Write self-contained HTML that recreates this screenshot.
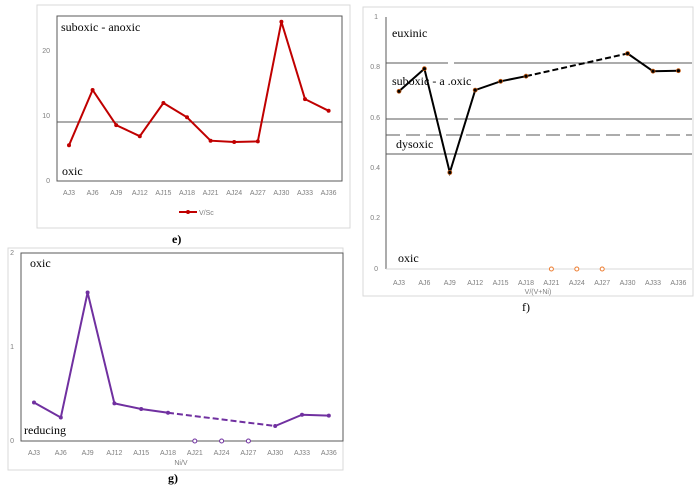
<!DOCTYPE html>
<html><head><meta charset="utf-8"><style>
html,body{margin:0;padding:0;background:#fff;width:695px;height:487px;overflow:hidden}
svg{display:block}
.t{font-family:"Liberation Sans",sans-serif;font-size:7px;fill:#7f7f7f}
.s{font-family:"Liberation Serif",serif;font-size:12px;fill:#000}
</style></head><body>
<svg width="695" height="487" viewBox="0 0 695 487" xmlns="http://www.w3.org/2000/svg">
<!-- Chart e -->
<rect x="37" y="5" width="313" height="223" fill="#fff" stroke="#d9d9d9"/>
<rect x="57" y="16" width="285" height="165" fill="none" stroke="#595959" stroke-width="1"/>
<line x1="57" y1="122" x2="342" y2="122" stroke="#595959"/>
<g class="t" text-anchor="end"><text x="50" y="183">0</text><text x="50" y="118">10</text><text x="50" y="53">20</text></g>
<text class="s" x="61" y="31">suboxic - anoxic</text>
<text class="s" x="62" y="175">oxic</text>
<polyline fill="none" stroke="#c00000" stroke-width="2" points="69,145.3 92.6,90 116.2,125.1 139.8,136.2 163.4,103 187,117.3 210.6,140.7 234.2,142 257.8,141.4 281.4,21.8 305,99.1 328.6,110.8"/>
<g fill="#c00000"><circle cx="69" cy="145.3" r="2"/><circle cx="92.6" cy="90" r="2"/><circle cx="116.2" cy="125.1" r="2"/><circle cx="139.8" cy="136.2" r="2"/><circle cx="163.4" cy="103" r="2"/><circle cx="187" cy="117.3" r="2"/><circle cx="210.6" cy="140.7" r="2"/><circle cx="234.2" cy="142" r="2"/><circle cx="257.8" cy="141.4" r="2"/><circle cx="281.4" cy="21.8" r="2"/><circle cx="305" cy="99.1" r="2"/><circle cx="328.6" cy="110.8" r="2"/></g>
<g class="t" text-anchor="middle"><text x="69" y="195">AJ3</text><text x="92.6" y="195">AJ6</text><text x="116.2" y="195">AJ9</text><text x="139.8" y="195">AJ12</text><text x="163.4" y="195">AJ15</text><text x="187" y="195">AJ18</text><text x="210.6" y="195">AJ21</text><text x="234.2" y="195">AJ24</text><text x="257.8" y="195">AJ27</text><text x="281.4" y="195">AJ30</text><text x="305" y="195">AJ33</text><text x="328.6" y="195">AJ36</text></g>
<line x1="179" y1="212" x2="197" y2="212" stroke="#c00000" stroke-width="2"/><circle cx="188" cy="212" r="2" fill="#c00000"/>
<text class="t" x="199" y="215">V/Sc</text>
<text class="s" x="172" y="243" font-weight="bold" font-size="11">e)</text>

<!-- Chart f -->
<rect x="363" y="7" width="330" height="289" fill="#fff" stroke="#d9d9d9"/>
<line x1="386" y1="17" x2="386" y2="269" stroke="#595959"/>
<line x1="386" y1="269" x2="692" y2="269" stroke="#d9d9d9"/>
<line x1="386" y1="63" x2="448" y2="63" stroke="#595959"/><line x1="454" y1="63" x2="692" y2="63" stroke="#595959"/>
<line x1="386" y1="119" x2="448" y2="119" stroke="#595959"/><line x1="454" y1="119" x2="692" y2="119" stroke="#595959"/>
<line x1="386" y1="135" x2="692" y2="135" stroke="#595959" stroke-dasharray="14,6"/>
<line x1="386" y1="154" x2="692" y2="154" stroke="#595959"/>
<g class="t" text-anchor="end"><text x="378" y="271">0</text><text x="380" y="220">0.2</text><text x="380" y="170">0.4</text><text x="380" y="120">0.6</text><text x="380" y="69">0.8</text><text x="378" y="19">1</text></g>
<text class="s" x="392" y="37">euxinic</text>
<text class="s" x="392" y="85">suboxic - a .oxic</text>
<text class="s" x="396" y="148">dysoxic</text>
<text class="s" x="398" y="262">oxic</text>
<polyline fill="none" stroke="#000" stroke-width="2" points="399,91.3 424.4,68.7 449.8,172.5 475.2,90.1 500.6,81.3 526,76.2"/>
<line x1="526" y1="76.2" x2="627.6" y2="53.5" stroke="#000" stroke-width="2" stroke-dasharray="6,3"/>
<polyline fill="none" stroke="#000" stroke-width="2" points="627.6,53.5 653,71.2 678.4,70.7"/>
<g fill="#000" stroke="#c55a11" stroke-width="0.8"><circle cx="399" cy="91.3" r="2"/><circle cx="424.4" cy="68.7" r="2"/><circle cx="449.8" cy="172.5" r="2"/><circle cx="475.2" cy="90.1" r="2"/><circle cx="500.6" cy="81.3" r="2"/><circle cx="526" cy="76.2" r="2"/><circle cx="627.6" cy="53.5" r="2"/><circle cx="653" cy="71.2" r="2"/><circle cx="678.4" cy="70.7" r="2"/></g>
<g fill="#fff" stroke="#ed7d31" stroke-width="1"><circle cx="551.4" cy="269" r="2"/><circle cx="576.8" cy="269" r="2"/><circle cx="602.2" cy="269" r="2"/></g>
<g class="t" text-anchor="middle"><text x="399" y="285">AJ3</text><text x="424.4" y="285">AJ6</text><text x="449.8" y="285">AJ9</text><text x="475.2" y="285">AJ12</text><text x="500.6" y="285">AJ15</text><text x="526" y="285">AJ18</text><text x="551.4" y="285">AJ21</text><text x="576.8" y="285">AJ24</text><text x="602.2" y="285">AJ27</text><text x="627.6" y="285">AJ30</text><text x="653" y="285">AJ33</text><text x="678.4" y="285">AJ36</text><text x="538" y="294">V/(V+Ni)</text></g>
<text class="s" x="522" y="311" font-size="11">f)</text>

<!-- Chart g -->
<rect x="8" y="248" width="335" height="222" fill="#fff" stroke="#d9d9d9"/>
<rect x="21" y="253" width="322" height="188" fill="none" stroke="#595959"/>
<g class="t" text-anchor="end"><text x="14" y="443">0</text><text x="14" y="349">1</text><text x="14" y="255">2</text></g>
<text class="s" x="30" y="267">oxic</text>
<text class="s" x="24" y="434">reducing</text>
<polyline fill="none" stroke="#7030a0" stroke-width="2" points="34,402.5 60.8,417.5 87.6,292.5 114.4,403.4 141.2,409 168,412.8"/>
<line x1="168" y1="412.8" x2="275.2" y2="426" stroke="#7030a0" stroke-width="2" stroke-dasharray="6,3"/>
<polyline fill="none" stroke="#7030a0" stroke-width="2" points="275.2,426 302,414.7 328.8,415.6"/>
<g fill="#7030a0"><circle cx="34" cy="402.5" r="2"/><circle cx="60.8" cy="417.5" r="2"/><circle cx="87.6" cy="292.5" r="2"/><circle cx="114.4" cy="403.4" r="2"/><circle cx="141.2" cy="409" r="2"/><circle cx="168" cy="412.8" r="2"/><circle cx="275.2" cy="426" r="2"/><circle cx="302" cy="414.7" r="2"/><circle cx="328.8" cy="415.6" r="2"/></g>
<g fill="#fff" stroke="#7030a0" stroke-width="1"><circle cx="194.8" cy="441" r="2"/><circle cx="221.6" cy="441" r="2"/><circle cx="248.4" cy="441" r="2"/></g>
<g class="t" text-anchor="middle"><text x="34" y="455">AJ3</text><text x="60.8" y="455">AJ6</text><text x="87.6" y="455">AJ9</text><text x="114.4" y="455">AJ12</text><text x="141.2" y="455">AJ15</text><text x="168" y="455">AJ18</text><text x="194.8" y="455">AJ21</text><text x="221.6" y="455">AJ24</text><text x="248.4" y="455">AJ27</text><text x="275.2" y="455">AJ30</text><text x="302" y="455">AJ33</text><text x="328.8" y="455">AJ36</text><text x="181" y="465">Ni/V</text></g>
<text class="s" x="168" y="482" font-weight="bold" font-size="11">g)</text>
</svg>
</body></html>
